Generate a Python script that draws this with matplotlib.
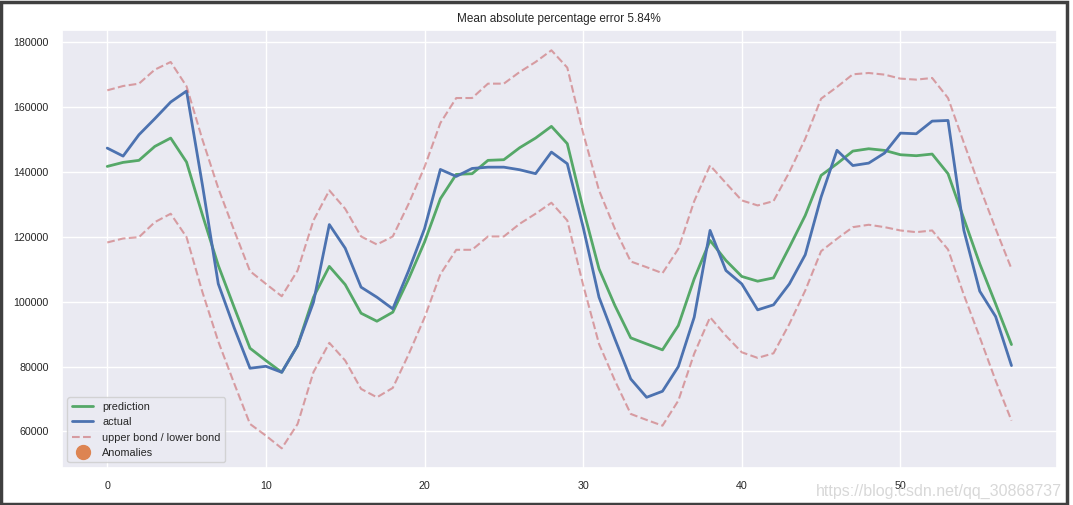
import matplotlib
matplotlib.use("Agg")
import matplotlib.pyplot as plt
from matplotlib.patches import Rectangle
import seaborn as sns
import numpy as np

sns.set_theme(style="darkgrid", color_codes=True)
plt.rcParams['font.family'] = ['Liberation Sans', 'DejaVu Sans']

title = "Mean absolute percentage error 5.84%"

prediction = [141730, 142970, 143600, 147900, 150470, 143060, 126800, 111200, 98300, 85670,
              81870, 78250, 86500, 101400, 110900, 105300, 96470, 94000, 96780, 107070,
              118400, 131770, 139270, 139480, 143600, 143800, 147500, 150470, 154080, 148740,
              128670, 110160, 98840, 88870, 87000, 85170, 92670, 107070, 118900, 112730,
              107800, 106340, 107370, 116830, 126610, 138960, 142560, 146460, 147180, 146670,
              145330, 145030, 145540, 139480, 125580, 111700, 99360, 86800]

actual = [147380, 144910, 151500, 156450, 161580, 164970, 136000, 105530, 92000, 79500,
          80100, 78250, 86500, 99860, 123800, 116520, 104500, 101400, 97800, 109600,
          122500, 140800, 138650, 141100, 141500, 141500, 140700, 139500, 146150, 142560,
          123000, 101400, 88550, 76200, 70540, 72400, 80000, 95230, 122000, 109640,
          105500, 97500, 99050, 105500, 114500, 132300, 146700, 142000, 142750, 145850,
          152000, 151800, 155700, 155900, 122000, 103250, 95440, 80320]

upper_bond = [165190, 166520, 167250, 171570, 173930, 166420, 150000, 135000, 122000, 109430,
              105530, 101700, 109640, 125070, 134330, 128670, 120130, 117660, 120130, 130220,
              141530, 155110, 162820, 162820, 167250, 167250, 170850, 173930, 177530, 172190,
              152000, 134330, 122500, 112420, 110660, 108810, 116300, 131000, 142040, 136580,
              131240, 129700, 131030, 139990, 150270, 162620, 166220, 170130, 170540, 170030,
              168800, 168490, 169000, 162820, 149000, 135350, 122500, 110160]

lower_bond = [118280, 119510, 119920, 124550, 127140, 119920, 103000, 87750, 74850, 62320,
              58720, 54800, 62320, 78300, 87330, 81870, 73130, 70540, 73440, 83800,
              95100, 108500, 116020, 116020, 120130, 120130, 124040, 127140, 130530, 125070,
              105200, 87000, 75700, 65410, 63560, 61800, 69520, 84000, 95230, 89500,
              84420, 82690, 84110, 93180, 103470, 115600, 119420, 123000, 123740, 123010,
              121980, 121460, 121980, 116120, 102100, 89060, 75700, 63360]

anomalies = []

x = np.arange(len(actual))

fig = plt.figure(figsize=(10.73, 5.05), dpi=100)
ax = fig.add_axes([0.0578, 0.0739, 0.927, 0.8661])

ax.plot(x, prediction, "g", label="prediction", linewidth=2.0)
ax.plot(x, actual, label="actual", linewidth=2.0, color="#4c72b0")
ax.plot(x, upper_bond, "r--", alpha=0.5, label="upper bond / lower bond", linewidth=1.5)
ax.plot(x, lower_bond, "r--", alpha=0.5, linewidth=1.5)
ax.plot(anomalies, anomalies, "o", color="#dd8452", markersize=10, label="Anomalies")

ax.set_ylim(48840, 183700)
ax.set_yticks([60000, 80000, 100000, 120000, 140000, 160000, 180000])
ax.set_title(title, fontsize=8.5, pad=6)
ax.tick_params(labelsize=7.7)
ax.legend(loc="lower left", fontsize=7.8)
ax.grid(True)

fig.text(0.99, 0.027, "https://blog.csdn.net/qq_30868737", ha="right", va="center",
         fontsize=11.5, color="#d8d8d8")

fig.patches.append(Rectangle((0.001, 0.002), 0.993, 0.994, transform=fig.transFigure,
                             fill=False, edgecolor="#404040", linewidth=2.5))

fig.savefig("out.png", dpi=100)
